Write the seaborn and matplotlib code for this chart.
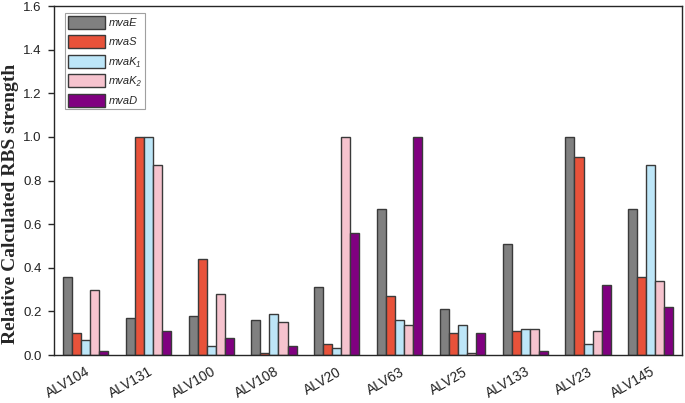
import numpy as np
import pandas as pd
import seaborn as sns
from matplotlib import pyplot as plt

# data -->
strains = ['ALV104', 'ALV131', 'ALV100', 'ALV108', 'ALV20',
           'ALV63', 'ALV25', 'ALV133', 'ALV23', 'ALV145']
mvaE = [0.36, 0.17, 0.18, 0.16, 0.31, 0.67, 0.21, 0.51, 1.00, 0.67]
mvaS = [0.10, 1.00, 0.44, 0.01, 0.05, 0.27, 0.10, 0.11, 0.91, 0.36]
mvaK1 = [0.07, 1.00, 0.04, 0.19, 0.03, 0.16, 0.14, 0.12, 0.05, 0.87]
mvaK2 = [0.30, 0.87, 0.28, 0.15, 1.00, 0.14, 0.01, 0.12, 0.11, 0.34]
mvaD = [0.02, 0.11, 0.08, 0.04, 0.56, 1.00, 0.10, 0.02, 0.32, 0.22]

genes = ['mvaE', 'mvaS', 'mvaK\u2081', 'mvaK\u2082', 'mvaD']
colors = ['#808080', '#E8523A', '#BDE6F8', '#F6C3CE', '#800080']

df = pd.DataFrame({'strain': strains, genes[0]: mvaE, genes[1]: mvaS,
                   genes[2]: mvaK1, genes[3]: mvaK2, genes[4]: mvaD})
df = df.melt(id_vars='strain', var_name='gene', value_name='value')

# style -->
sns.set_style('ticks')
plt.rcParams['font.family'] = ['Liberation Sans', 'DejaVu Sans']

fig = plt.figure(figsize=(6.85, 4.03), dpi=100)
ax = fig.add_axes([0.079, 0.119, 0.917, 0.866])

sns.barplot(data=df, x='strain', y='value', hue='gene', palette=colors,
            width=0.72, gap=0, edgecolor='#3a3a3a', linewidth=1.0,
            saturation=1, ax=ax)

ax.set_xlim(-0.5, 9.5)
ax.set_ylim(0, 1.6)
ax.set_yticks(np.arange(0, 1.61, 0.2))
ax.set_yticklabels([f'{v:.1f}' for v in np.arange(0, 1.61, 0.2)], fontsize=9.5, color='#222222')
ax.set_xlabel('')
ax.set_ylabel('Relative Calculated RBS strength', fontsize=14, fontweight='bold',
              family='Liberation Serif')
ax.yaxis.set_label_coords(-0.056, 0.434)
ax.tick_params(axis='y', direction='out', length=4, width=1, pad=5)
ax.tick_params(axis='x', length=0, pad=7)
plt.setp(ax.get_xticklabels(), rotation=30, ha='right', va='top', rotation_mode='anchor',
         fontsize=10, color='#222222')
for s in ax.spines.values():
    s.set_visible(True)
    s.set_linewidth(1.0)

leg = ax.legend(loc='upper left', bbox_to_anchor=(0.0175, 0.98),
                prop={'size': 8, 'style': 'italic'},
                frameon=True, fancybox=False, edgecolor='#888888',
                handlelength=3.3, handleheight=1.4, labelspacing=0.6,
                borderpad=0.25, handletextpad=0.4, borderaxespad=0)
leg.get_frame().set_linewidth(0.8)

fig.savefig('out.png', dpi=100)
